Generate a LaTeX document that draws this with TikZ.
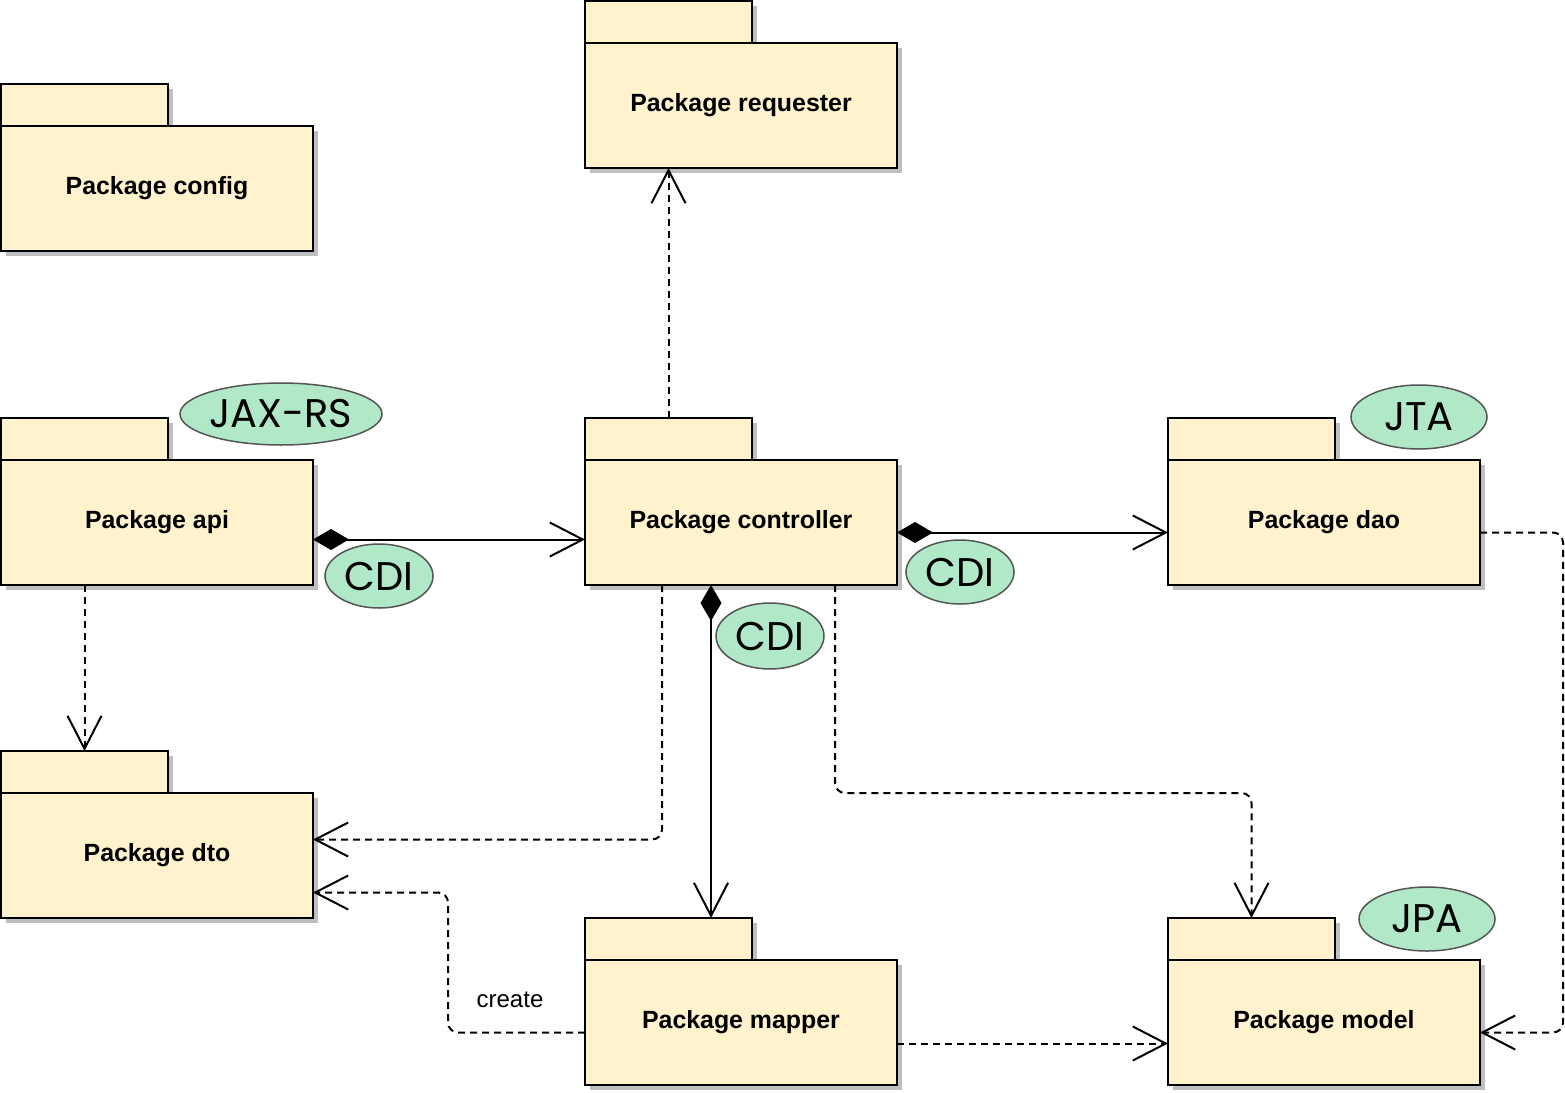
\documentclass[tikz,border=0pt]{standalone}
\usepackage{fontspec}
\setmainfont{Liberation Sans}
\newfontfamily\tagfont{Poppins}
\usetikzlibrary{arrows.meta,shapes.geometric,shadows,calc}
\definecolor{pkgfill}{HTML}{FFF2CC}
\definecolor{tagfill}{HTML}{B0E8C8}
\definecolor{tagline}{HTML}{555555}
\definecolor{shade}{HTML}{BFBFBF}
\newcommand\pkgbox[4]{%
  \node[pkgtab] (#1tab) at (#2,#3) {};
  \node[pkgbody] (#1) at (#2,#3+42) {#4};
}
\begin{document}
\begin{tikzpicture}[x=1pt,y=-1pt,
  pkgshadow/.style={drop shadow={shadow xshift=5pt,shadow yshift=-5pt,fill=shade,opacity=1}},
  pkgbody/.style={draw=black,line width=2pt,fill=pkgfill,minimum width=312pt,minimum height=125pt,inner sep=0pt,outer sep=0pt,anchor=north west,font=\fontsize{24.9}{30}\selectfont\bfseries,pkgshadow},
  pkgtab/.style={draw=black,line width=2pt,fill=pkgfill,minimum width=167pt,minimum height=42pt,inner sep=0pt,outer sep=0pt,anchor=north west,pkgshadow},
  tag/.style={ellipse,draw=tagline,line width=1.5pt,fill=tagfill,inner sep=0pt,font=\tagfont\fontsize{40}{42}\selectfont},
  dep/.style={line width=2pt,dash pattern=on 7pt off 5pt,rounded corners=10pt,-{Straight Barb[length=33pt,width=34pt]}},
  comp/.style={line width=2pt,{Diamond[length=36pt,width=21pt]}-{Straight Barb[length=33pt,width=34pt]}},
  lbl/.style={font=\fontsize{24}{28}\selectfont,inner sep=0pt}
]
\useasboundingbox (0,0) rectangle (1565,1092);

\pkgbox{req}{585}{1}{Package requester}
\pkgbox{cfg}{1}{84}{Package config}
\pkgbox{api}{1}{418}{Package api}
\pkgbox{ctrl}{585}{418}{Package controller}
\pkgbox{dao}{1168}{418}{Package dao}
\pkgbox{dto}{1}{751}{Package dto}
\pkgbox{map}{585}{918}{Package mapper}
\pkgbox{model}{1168}{918}{Package model}

\node[tag,minimum width=202pt,minimum height=62pt] (tjax) at (281,414) {JAX-RS};
\node[tag,minimum width=108pt,minimum height=64pt] (tcdi1) at (379,576) {CDI};
\node[tag,minimum width=108pt,minimum height=64pt] (tcdi2) at (960,572) {CDI};
\node[tag,minimum width=108pt,minimum height=66pt] (tcdi3) at (770,636) {CDI};
\node[tag,minimum width=136pt,minimum height=64pt] (tjta) at (1419,417) {JTA};
\node[tag,minimum width=136pt,minimum height=64pt] (tjpa) at (1427,919) {JPA};

% controller -> requester
\draw[dep] (ctrltab.north) -- (ctrltab.north |- req.south);
% compositions
\draw[comp] ($(api.east)+(0,17)$) -- ($(ctrl.west)+(0,17)$);
\draw[comp] ($(ctrl.east)+(0,10)$) -- ($(dao.west)+(0,10)$);
\coordinate (cm) at ($(ctrl.south)+(-30,0)$);
\draw[comp] (cm) -- (cm |- maptab.north);
% api -> dto
\draw[dep] (apitab.center |- api.south) -- (dtotab.north);
% controller -> dto
\coordinate (cd) at ($(ctrl.south)+(-79,0)$);
\coordinate (cdend) at ($(dto.east)+(0,-16)$);
\draw[dep] (cd) -- (cd |- cdend) -- (cdend);
% mapper -> dto (create)
\coordinate (md0) at ($(map.west)+(0,10)$);
\coordinate (mdend) at ($(dto.east)+(0,37)$);
\coordinate (kx) at (448,0);
\draw[dep] (md0) -- (md0 -| kx) -- (mdend -| kx) -- (mdend);
\node[lbl] (createlbl) at (510,1000) {create};
% controller -> model
\coordinate (cmo) at ($(ctrl.south)+(94,0)$);
\coordinate (ky) at (0,793);
\draw[dep] (cmo) -- (cmo |- ky) -- (modeltab.north |- ky) -- (modeltab.north);
% dao -> model
\coordinate (dm0) at ($(dao.east)+(0,10)$);
\coordinate (dmend) at ($(model.east)+(0,10)$);
\coordinate (kr) at (1563,0);
\draw[dep] (dm0) -- (dm0 -| kr) -- (dmend -| kr) -- (dmend);
% mapper -> model
\draw[dep] ($(map.east)+(0,21)$) -- ($(model.west)+(0,21)$);
\end{tikzpicture}
\end{document}
